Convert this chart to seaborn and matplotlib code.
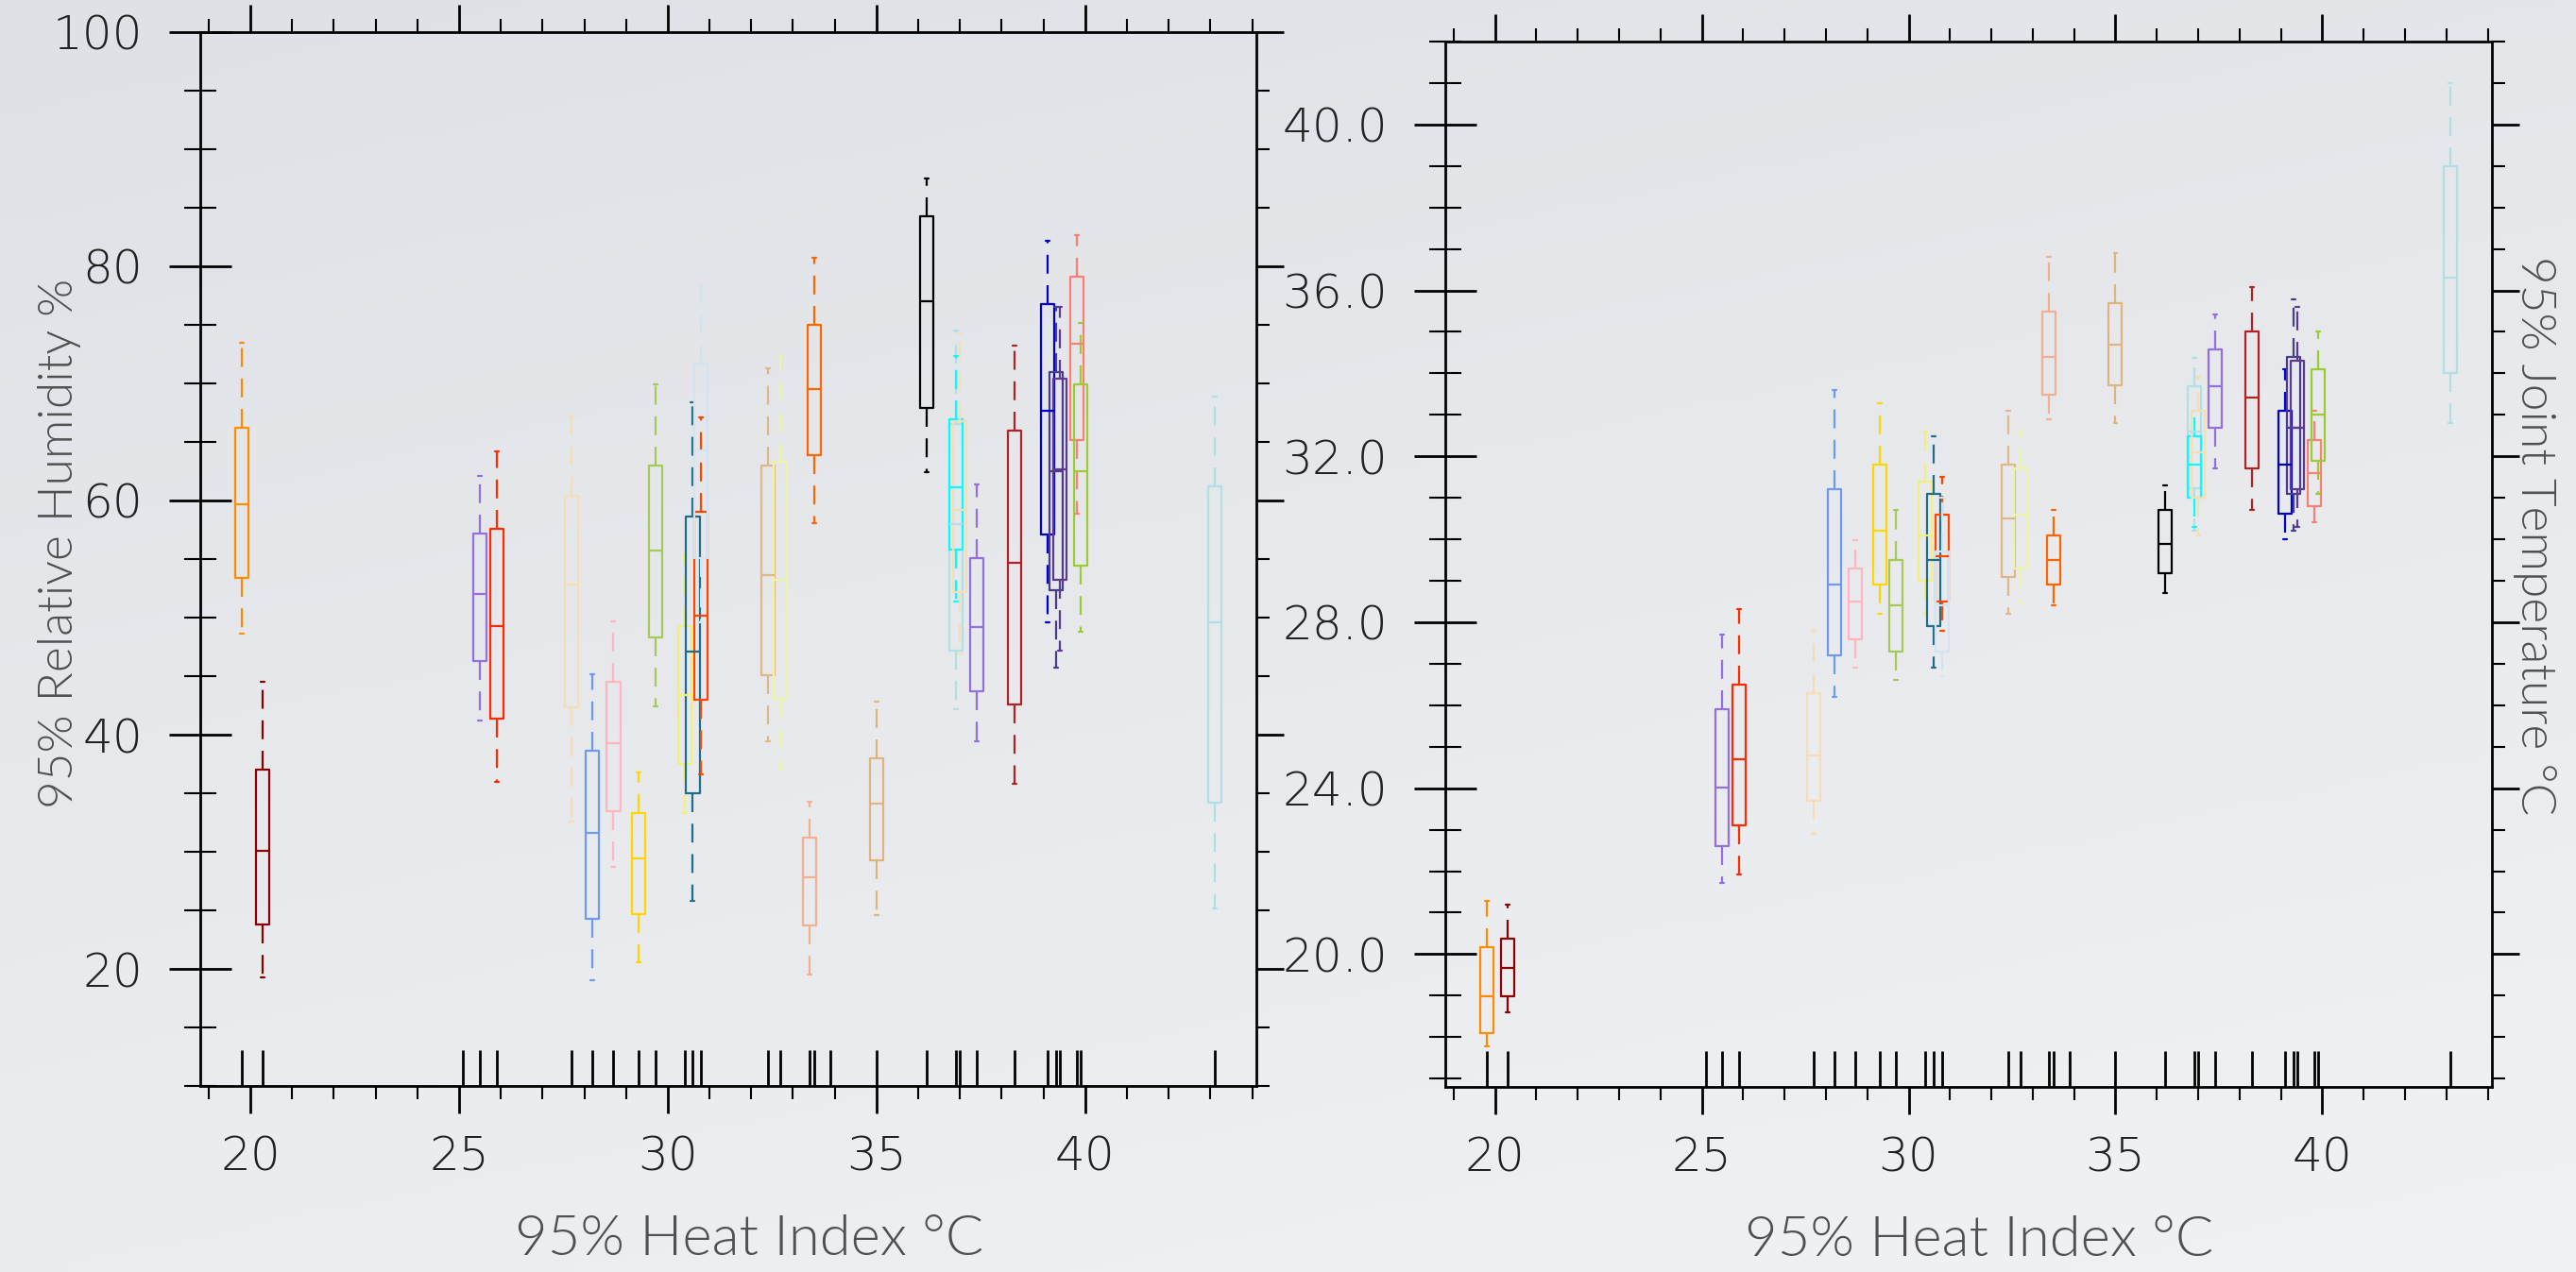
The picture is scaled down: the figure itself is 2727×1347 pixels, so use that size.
import numpy as np
import pandas as pd
import matplotlib
matplotlib.use("Agg")
import matplotlib.pyplot as plt
from matplotlib import font_manager as fm
from matplotlib.ticker import MultipleLocator, FormatStrFormatter
import seaborn as sns

# ---------------- data ----------------
heat_index = [19.8, 20.3, 25.5, 25.9, 27.7, 28.2, 28.7, 29.3, 29.7, 30.4, 30.6, 30.8, 30.8,
              32.4, 32.7, 33.4, 33.5, 35.0, 36.2, 36.9, 36.9, 37.0, 37.4, 38.3, 39.1, 39.3,
              39.4, 39.8, 39.9, 43.1]
box_colors = ["#FF8C00", "#8B0000", "#9370DB", "#FF2A00", "#F5DEB3", "#6D9AEE", "#FFB6C1",
              "#FFD700", "#A6C95A", "#F2F07A", "#1F6E8C", "#FF4500", "#D3E4F0", "#DEB887",
              "#EEF4A4", "#F2B08E", "#FF6600", "#E0B47C", "#000000", "#B0E0E6", "#00FFFF",
              "#F5DEB3", "#9370DB", "#B22222", "#0000CD", "#483D8B", "#5D3A8E", "#FA8072",
              "#9ACD32", "#B0E0E6"]

rh_low = [48.6, 19.3, 41.2, 36.0, 32.6, 19.0, 28.7, 20.6, 42.4, 33.3, 25.8, 36.6, 49.6, 39.4, 37.1,
          19.5, 58.1, 24.6, 62.4, 42.2, 51.4, 46.9, 39.4, 35.8, 49.6, 45.7, 47.2, 58.9, 48.8, 25.2]
rh_q1 = [53.4, 23.8, 46.3, 41.4, 42.3, 24.3, 33.5, 24.7, 48.3, 37.5, 35.0, 43.0, 55.1, 45.1, 43.1,
         23.7, 63.9, 29.3, 67.9, 47.2, 55.8, 52.2, 43.7, 42.6, 57.1, 52.3, 53.2, 65.2, 54.4, 34.2]
rh_med = [59.7, 30.1, 52.0, 49.3, 52.8, 31.6, 39.3, 29.4, 55.7, 43.4, 47.1, 50.2, 64.3, 53.6, 53.2,
          27.8, 69.5, 34.1, 77.0, 58.0, 61.1, 59.2, 49.2, 54.7, 67.7, 62.5, 62.7, 73.4, 62.5, 49.6]
rh_q3 = [66.2, 37.0, 57.2, 57.6, 60.4, 38.6, 44.5, 33.3, 63.0, 49.3, 58.6, 59.0, 71.7, 63.0, 63.3,
         31.2, 75.0, 38.0, 84.3, 66.5, 66.9, 66.8, 55.1, 66.0, 76.8, 71.0, 70.4, 79.1, 69.9, 61.2]
rh_high = [73.5, 44.5, 62.1, 64.2, 67.2, 45.2, 49.7, 36.8, 69.9, 55.3, 68.4, 67.1, 78.3, 71.3, 72.3,
           34.3, 80.7, 42.8, 87.5, 74.5, 72.3, 74.3, 61.4, 73.2, 82.2, 76.5, 76.5, 82.7, 75.2, 68.9]

jt_low = [17.77, 18.59, 21.72, 21.92, 22.91, 26.20, 26.90, 28.21, 26.61, 28.21, 26.90, 27.80, 26.70,
          28.21, 28.50, 32.90, 28.40, 32.80, 28.70, 30.21, 30.31, 30.09, 31.70, 30.71, 30.01, 30.21,
          30.30, 30.42, 31.10, 32.80]
jt_q1 = [18.09, 18.99, 22.61, 23.11, 23.70, 27.20, 27.60, 28.90, 27.30, 29.00, 27.90, 28.50, 27.30,
         29.10, 29.29, 33.49, 28.91, 33.71, 29.19, 31.23, 31.00, 31.00, 32.70, 31.70, 30.61, 31.10,
         31.20, 30.81, 31.90, 34.00]
jt_med = [18.99, 19.67, 24.01, 24.70, 24.80, 28.90, 28.50, 30.20, 28.40, 30.10, 29.50, 29.60, 28.40,
          30.50, 30.60, 34.40, 29.50, 34.70, 29.90, 32.60, 31.81, 32.09, 33.70, 33.41, 31.80, 32.70,
          32.70, 31.59, 33.00, 36.30]
jt_q3 = [20.18, 20.38, 25.90, 26.50, 26.30, 31.20, 29.30, 31.80, 29.50, 31.40, 31.10, 30.60, 29.70,
         31.80, 31.70, 35.50, 30.10, 35.70, 30.70, 33.70, 32.49, 33.10, 34.59, 35.00, 33.10, 34.40,
         34.31, 32.39, 34.09, 39.00]
jt_high = [21.28, 21.19, 27.70, 28.31, 27.79, 33.60, 29.99, 33.29, 30.70, 32.60, 32.49, 31.50, 31.00,
           33.10, 32.60, 36.80, 30.70, 36.90, 31.30, 34.38, 33.10, 33.92, 35.41, 36.09, 34.09, 35.78,
           35.60, 33.09, 35.00, 41.00]

rug_heat = [19.8, 20.3, 25.1, 25.5, 25.9, 27.7, 28.2, 28.7, 29.3, 29.7, 30.4, 30.6, 30.8, 32.4,
            32.7, 33.4, 33.5, 33.9, 35.0, 36.2, 36.9, 37.0, 37.4, 38.3, 39.1, 39.3, 39.4, 39.8,
            39.9, 43.1]

x_tick_step, x_minor_step = 5, 1
rh_major, rh_minor = 20, 5
jt_major, jt_minor = 4, 1

xlabel_text = "95% Heat Index °C"
ylabel_left = "95% Relative Humidity %"
ylabel_right = "95% Joint Temperature °C"

# ---------------- long-form table: five values per box reproduce its summary ----------------
station_ids = [f"st{i:02d}" for i in range(len(heat_index))]
records = []
for i, sid in enumerate(station_ids):
    rh_vals = (rh_low[i], rh_q1[i], rh_med[i], rh_q3[i], rh_high[i])
    jt_vals = (jt_low[i], jt_q1[i], jt_med[i], jt_q3[i], jt_high[i])
    for r, j in zip(rh_vals, jt_vals):
        records.append({"station": sid, "heat": heat_index[i], "rh": r, "jt": j})
df = pd.DataFrame(records)
palette = dict(zip(station_ids, box_colors))

# ---------------- fonts ----------------
sns.set_style("ticks")
plt.rcParams["font.family"] = ["DejaVu Sans"]


def font_weight(f):
    w = f.weight
    if isinstance(w, str):
        w = fm.weight_dict.get(w, 400)
    return w


def pick_font(prefs):
    for fam, lo, hi in prefs:
        cands = [f for f in fm.fontManager.ttflist
                 if f.name == fam and f.style == "normal" and lo <= font_weight(f) <= hi]
        if cands:
            cands.sort(key=lambda f: abs(font_weight(f) - hi))
            return cands[0].fname
    return None


tick_path = pick_font([("DejaVu Sans", 150, 250), ("Lato", 250, 300), ("Open Sans", 250, 300),
                       ("Roboto", 250, 300), ("Inter", 250, 300)])
label_path = pick_font([("Lato", 280, 320), ("Open Sans", 280, 320), ("Roboto", 280, 320),
                        ("Inter", 280, 320), ("Lato", 350, 400)])


def make_fp(path, size, fallback):
    if path:
        return fm.FontProperties(fname=path, size=size)
    return fm.FontProperties(family=fallback, size=size)


tick_fp = make_fp(tick_path, 36, "DejaVu Sans")
xlabel_fp = make_fp(label_path, 43, "Lato")
ylabel_fp = make_fp(label_path, 37, "Lato")

label_color = "#505050"
tick_color = "#222222"

# ---------------- figure ----------------
fig = plt.figure(figsize=(27.27, 13.47), dpi=100)

bg = fig.add_axes([0, 0, 1, 1], zorder=-10)
yy, xx = np.mgrid[0:1:200j, 0:1:400j]
t = 0.7 * yy + 0.3 * xx
c0 = np.array([0.871, 0.882, 0.902])
c1 = np.array([0.945, 0.949, 0.957])
bg.imshow(c0 + (c1 - c0) * t[..., None], aspect="auto", extent=[0, 1, 0, 1], origin="upper")
bg.axis("off")

ax1 = fig.add_axes([0.07774, 0.14625, 0.40997, 0.82851])
ax2 = fig.add_axes([0.56106, 0.14551, 0.40631, 0.82183])

min_gap = np.min(np.diff(np.unique(heat_index)))
box_width = 0.32 / min_gap

common = dict(data=df, x="heat", hue="station", palette=palette, native_scale=True,
              dodge=False, fill=False, width=box_width, whis=(0, 100), linewidth=1.6,
              legend=False, whiskerprops=dict(linestyle=(0, (9, 5.5))), capwidths=0.09,
              showfliers=False)

sns.boxplot(y="rh", ax=ax1, **common)
sns.boxplot(y="jt", ax=ax2, **common)

for ax in (ax1, ax2):
    sns.rugplot(x=rug_heat, height=0.034, color="black", linewidth=2.0,
                expand_margins=False, ax=ax)


def style(ax, ylim, ymaj, ymin, yfmt):
    ax.patch.set_alpha(0)
    ax.set_xlim(18.8, 44.1)
    ax.set_ylim(*ylim)
    ax.xaxis.set_major_locator(MultipleLocator(x_tick_step))
    ax.xaxis.set_minor_locator(MultipleLocator(x_minor_step))
    ax.xaxis.set_major_formatter(FormatStrFormatter("%d"))
    ax.yaxis.set_major_locator(MultipleLocator(ymaj))
    ax.yaxis.set_minor_locator(MultipleLocator(ymin))
    ax.yaxis.set_major_formatter(FormatStrFormatter(yfmt))
    ax.tick_params(axis="x", which="both", direction="out", top=True, bottom=True,
                   labeltop=False, color="black", labelcolor=tick_color)
    ax.tick_params(axis="x", which="major", length=21, width=2, pad=16)
    ax.tick_params(axis="x", which="minor", length=10, width=1.5)
    ax.tick_params(axis="y", which="both", direction="inout", left=True, right=False,
                   color="black", labelcolor=tick_color)
    ax.tick_params(axis="y", which="major", length=48, width=2, pad=20)
    ax.tick_params(axis="y", which="minor", length=24, width=1.5)
    for s in ax.spines.values():
        s.set_visible(True)
        s.set_linewidth(2)
        s.set_color("black")
    ax.set_xlabel(xlabel_text, fontproperties=xlabel_fp, color=label_color)
    ax.set_ylabel("")

    tw = ax.twinx()
    tw.set_ylim(*ylim)
    tw.yaxis.set_major_locator(MultipleLocator(ymaj))
    tw.yaxis.set_minor_locator(MultipleLocator(ymin))
    tw.tick_params(axis="y", which="both", direction="out", right=True, left=False,
                   labelright=False, labelleft=False, color="black")
    tw.tick_params(axis="y", which="major", length=21, width=2)
    tw.tick_params(axis="y", which="minor", length=10, width=1.5)
    for s in tw.spines.values():
        s.set_visible(False)
    tw.patch.set_alpha(0)
    ax.tick_params(axis="y", which="both", left=True, right=False, labelleft=True,
                   labelright=False)
    for lbl in ax.get_xticklabels() + ax.get_yticklabels():
        lbl.set_fontproperties(tick_fp)
    return tw


tw1 = style(ax1, (10, 100), rh_major, rh_minor, "%d")
tw2 = style(ax2, (16.8, 42), jt_major, jt_minor, "%.1f")

ax1.xaxis.set_label_coords(0.52, -0.122)
ax2.xaxis.set_label_coords(0.51, -0.1226)

ax1.set_ylabel(ylabel_left, fontproperties=ylabel_fp, color=label_color)
ax1.yaxis.set_label_coords(-0.1127, 0.515)

tw2.set_ylabel(ylabel_right, fontproperties=ylabel_fp, color=label_color, rotation=270,
               va="bottom")
tw2.yaxis.set_label_coords(1.02, 0.527)

fig.savefig("out.png", dpi=100)
